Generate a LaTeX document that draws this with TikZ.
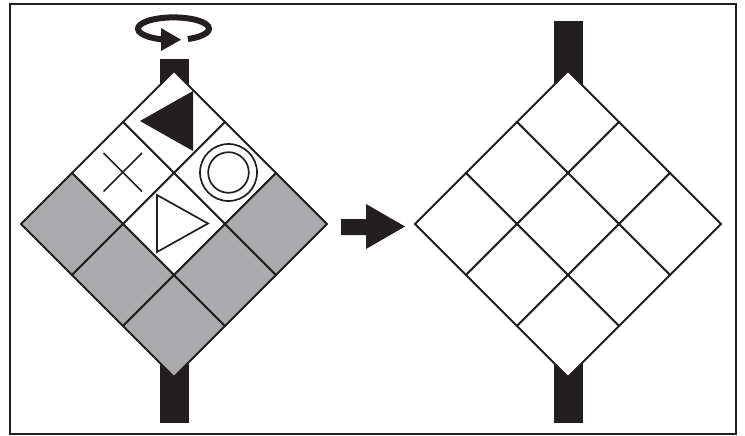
\documentclass[tikz,border=0pt]{standalone}
\definecolor{ink}{RGB}{35,31,32}
\definecolor{cellgray}{RGB}{170,170,172}
\begin{document}
\begin{tikzpicture}[x=1pt,y=-1pt,
  cellbox/.style={draw=ink,line width=2pt,line join=miter},
  symline/.style={draw=ink,line width=1.7pt},
  shaft/.style={fill=ink}]
\useasboundingbox (0,0) rectangle (745,436);
% frame
\draw[ink,line width=2pt] (10,4) rectangle (736,434);
% left assembly shafts
\fill[shaft] (160,59) rectangle (189,150);
\fill[shaft] (160,300) rectangle (189,423);
% right assembly shafts
\fill[shaft] (554,21) rectangle (583,150);
\fill[shaft] (554,300) rectangle (583,423);
% left diamond cells
\foreach \i/\j/\f in {0/0/white,0/1/white,1/0/white,1/1/white,0/2/cellgray,1/2/cellgray,2/2/cellgray,2/1/cellgray,2/0/cellgray}
  \filldraw[cellbox,fill=\f] ({174+51*(\i-\j)},{71+51*(\i+\j)}) -- ++(51,51) -- ++(-51,51) -- ++(-51,-51) -- cycle;
% right diamond cells
\foreach \i in {0,1,2}
  \foreach \j in {0,1,2}
    \filldraw[cellbox,fill=white] ({568+51*(\i-\j)},{71+51*(\i+\j)}) -- ++(51,51) -- ++(-51,51) -- ++(-51,-51) -- cycle;
% symbols
\fill[ink] (140,121) -- (193,91) -- (193,151) -- cycle;
\draw[symline] (103.5,153) -- (142,191.5) (103.5,191.5) -- (142,153);
\draw[symline] (228.5,172.5) circle[radius=28.5];
\draw[symline] (228.5,172.5) circle[radius=20.3];
\draw[symline,line join=miter] (157,195) -- (208,223.5) -- (157,252) -- cycle;
% rotation arrow
\draw[ink,line width=6pt] (173.5,28.7) ++(66:35.5 and 11.3) arc[start angle=66,end angle=-252,x radius=35.5,y radius=11.3];
\fill[ink] (161,28) -- (181,39.7) -- (161,51) -- cycle;
% transform arrow
\fill[ink] (341,219) -- (366,219) -- (366,204) -- (405,226.5) -- (366,249) -- (366,235) -- (341,235) -- cycle;
\end{tikzpicture}
\end{document}
